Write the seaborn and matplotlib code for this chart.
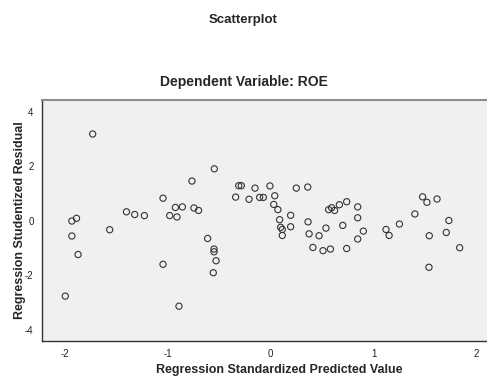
import numpy as np
import pandas as pd
import seaborn as sns
import matplotlib.pyplot as plt

sns.set_style("white")
plt.rcParams["font.family"] = ["Liberation Sans", "DejaVu Sans"]
plt.rcParams["axes.unicode_minus"] = False

# standardized predicted value vs studentized residual
pred = [-1.728, -1.93, -1.885, -1.93, -1.87, -1.994, -1.563, -1.40, -1.32, -1.226,
        -1.045, -1.045, -0.98, -0.91, -0.925, -0.857, -0.89, -0.764, -0.745, -0.70,
        -0.612, -0.547, -0.55, -0.55, -0.53, -0.557, -0.34, -0.31, -0.285, -0.21,
        -0.152, -0.107, -0.071, -0.007, 0.04, 0.03, 0.07, 0.087, 0.097, 0.113,
        0.113, 0.194, 0.194, 0.249, 0.36, 0.363, 0.373, 0.41, 0.47, 0.508,
        0.537, 0.563, 0.592, 0.621, 0.58, 0.667, 0.70, 0.738, 0.738, 0.845,
        0.845, 0.845, 0.90, 1.12, 1.15, 1.25, 1.40, 1.475, 1.517, 1.615,
        1.54, 1.537, 1.73, 1.705, 1.835]
resid = [3.19, -0.01, 0.09, -0.56, -1.24, -2.77, -0.33, 0.33, 0.23, 0.19,
         0.83, -1.60, 0.19, 0.14, 0.49, 0.51, -3.14, 1.46, 0.47, 0.38,
         -0.65, 1.91, -1.04, -1.14, -1.47, -1.91, 0.87, 1.29, 1.29, 0.79,
         1.20, 0.86, 0.86, 1.28, 0.92, 0.60, 0.41, 0.04, -0.24, -0.32,
         -0.54, 0.20, -0.22, 1.20, 1.24, -0.04, -0.48, -0.98, -0.55, -1.10,
         -0.27, 0.41, 0.48, 0.38, -1.04, 0.59, -0.17, 0.70, -1.02, 0.51,
         0.11, -0.67, -0.38, -0.32, -0.54, -0.12, 0.25, 0.88, 0.68, 0.80,
         -0.55, -1.71, 0.01, -0.43, -0.99]

df = pd.DataFrame({"pred": pred, "resid": resid})

fig = plt.figure(figsize=(4.87, 3.78), dpi=100)
# axes run past the right edge of the figure, as in the original
x0 = 42 / 487
w = 1.06 - x0
ax = fig.add_axes([x0, 1 - 341 / 378, w, 241 / 378])
ax.set_facecolor("#f0f0f0")
ax.patch.set_edgecolor("none")

sns.scatterplot(data=df, x="pred", y="resid", ax=ax, s=20,
                facecolor="none", edgecolor="#333333", linewidth=0.8)

# x limits chosen so that -2 and 2 land where they do in the original
px_per_unit = 103 / 487 / w
ax.set_xlim(-2.22, -2.22 + 1 / px_per_unit)
ax.set_ylim(-4.42, 4.44)
ax.set_xticks([-2, -1, 0, 1, 2])
ax.set_yticks([-4, -2, 0, 2, 4])
ax.tick_params(axis="both", direction="out", length=4, width=0.8,
               labelsize=7, colors="#222222", pad=2)

for side in ["left", "bottom"]:
    ax.spines[side].set_color("#333333")
    ax.spines[side].set_linewidth(1.0)
ax.spines["top"].set_color("#8c8c8c")
ax.spines["top"].set_linewidth(1.5)
ax.spines["right"].set_visible(False)

ax.set_xlabel("Regression Standardized Predicted Value", fontsize=9,
              fontweight="bold", labelpad=3)
ax.set_ylabel("Regression Studentized Residual", fontsize=9,
              fontweight="bold", labelpad=-1)

fig.text(0.5, 1 - 20 / 378, "Scatterplot", ha="center", va="center",
         fontsize=9.5, fontweight="bold")
fig.text(0.5, 1 - 82 / 378, "Dependent Variable: ROE", ha="center",
         va="center", fontsize=10, fontweight="bold")

fig.savefig("out.png", dpi=100)
